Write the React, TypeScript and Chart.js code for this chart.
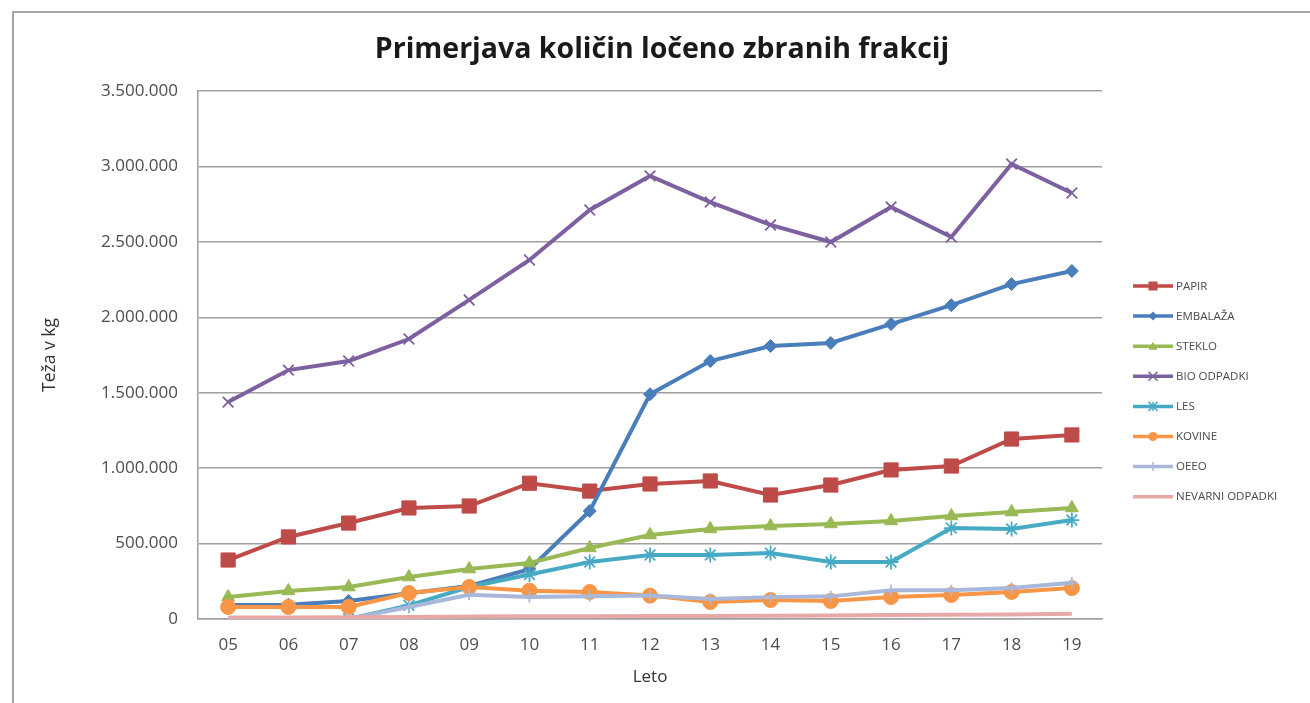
import React, { useEffect, useRef } from "react";
import { Chart, registerables } from "chart.js";

Chart.register(...registerables);

const years = ["05", "06", "07", "08", "09", "10", "11", "12", "13", "14", "15", "16", "17", "18", "19"];

const papir = [391000, 544000, 636000, 736000, 749000, 900000, 848000, 895000, 915000, 822000, 888000, 988000, 1014000, 1193000, 1220000];
const embalaza = [93000, 95000, 120000, 170000, 219000, 330000, 716000, 1490000, 1710000, 1810000, 1830000, 1955000, 2080000, 2220000, 2307000];
const steklo = [146000, 186000, 212000, 278000, 331000, 371000, 471000, 557000, 597000, 616000, 630000, 650000, 683000, 709000, 736000];
const bioOdpadki = [1438000, 1650000, 1710000, 1856000, 2115000, 2380000, 2711000, 2937000, 2764000, 2612000, 2499000, 2731000, 2532000, 3016000, 2824000];
const les = [null, null, 0, 90000, 212000, 295000, 378000, 424000, 424000, 437000, 378000, 378000, 603000, 597000, 656000];
const kovine = [80000, 80000, 80000, 172000, 212000, 188000, 179000, 155000, 113000, 126000, 120000, 146000, 159000, 179000, 205000];
const oeeo = [null, null, 0, 80000, 160000, 146000, 150000, 155000, 132000, 145000, 150000, 190000, 190000, 205000, 240000];
const nevarni = [10000, 10000, 12000, 14000, 16000, 18000, 18000, 20000, 20000, 22000, 24000, 26000, 28000, 30000, 34000];

const seriesNames = ["PAPIR", "EMBALAŽA", "STEKLO", "BIO ODPADKI", "LES", "KOVINE", "OEEO", "NEVARNI ODPADKI"];
const seriesData = [papir, embalaza, steklo, bioOdpadki, les, kovine, oeeo, nevarni];
const seriesColors = ["#BE4B48", "#4A7EBB", "#98B954", "#7D60A0", "#46AAC5", "#F79646", "#A9B8DA", "#E6A9A8"];
const seriesPoints = ["rect", "rectRot", "triangle", "crossRot", "star", "circle", "cross", false];
const seriesRadius = [10, 6.5, 7.5, 7.5, 7.5, 7.5, 5.5, 0];

const yTicks = [0, 500000, 1000000, 1500000, 2000000, 2500000, 3000000, 3500000];

const titleText = "Primerjava količin ločeno zbranih frakcij";
const yTitle = "Teža v kg";
const xTitle = "Leto";

const FONT = "'Open Sans', sans-serif";

function fmt(v: number): string {
  return String(Math.round(v)).replace(/\B(?=(\d{3})+(?!\d))/g, ".");
}

function drawMarker(ctx: CanvasRenderingContext2D, style: any, x: number, y: number, r: number, color: string) {
  ctx.save();
  ctx.fillStyle = color;
  ctx.strokeStyle = color;
  ctx.lineWidth = 2;
  ctx.beginPath();
  if (style === "rect") {
    ctx.rect(x - r, y - r, 2 * r, 2 * r);
    ctx.fill();
  } else if (style === "rectRot") {
    ctx.moveTo(x, y - r);
    ctx.lineTo(x + r, y);
    ctx.lineTo(x, y + r);
    ctx.lineTo(x - r, y);
    ctx.closePath();
    ctx.fill();
  } else if (style === "triangle") {
    ctx.moveTo(x, y - r);
    ctx.lineTo(x + r, y + r * 0.8);
    ctx.lineTo(x - r, y + r * 0.8);
    ctx.closePath();
    ctx.fill();
  } else if (style === "circle") {
    ctx.arc(x, y, r, 0, Math.PI * 2);
    ctx.fill();
  } else if (style === "crossRot" || style === "star" || style === "cross") {
    ctx.lineWidth = 1.5;
    if (style !== "cross") {
      ctx.moveTo(x - r, y - r); ctx.lineTo(x + r, y + r);
      ctx.moveTo(x - r, y + r); ctx.lineTo(x + r, y - r);
    }
    if (style !== "crossRot") {
      ctx.moveTo(x, y - r); ctx.lineTo(x, y + r);
      ctx.moveTo(x - r, y); ctx.lineTo(x + r, y);
    }
    ctx.stroke();
  }
  ctx.restore();
}

const decorPlugin = {
  id: "decor",
  beforeDraw(chart: any) {
    const ctx = chart.ctx as CanvasRenderingContext2D;
    ctx.save();
    ctx.fillStyle = "#ffffff";
    ctx.fillRect(0, 0, chart.width, chart.height);
    ctx.strokeStyle = "#a6a6a6";
    ctx.lineWidth = 2;
    ctx.beginPath();
    ctx.moveTo(13, chart.height + 5);
    ctx.lineTo(13, 12);
    ctx.lineTo(chart.width + 5, 12);
    ctx.stroke();
    ctx.restore();
  },
  afterDraw(chart: any) {
    const ctx = chart.ctx as CanvasRenderingContext2D;
    ctx.save();
    ctx.fillStyle = "#1a1a1a";
    ctx.font = `bold 28.5px ${FONT}`;
    ctx.textAlign = "center";
    ctx.textBaseline = "middle";
    ctx.fillText(titleText, 662, 50);

    // legend
    const x0 = 1133;
    const x1 = 1173;
    const ds = chart.data.datasets;
    ctx.font = `11.5px ${FONT}`;
    ctx.textAlign = "left";
    ctx.textBaseline = "middle";
    for (let i = 0; i < ds.length; i++) {
      const y = 286 + i * 30.1;
      ctx.strokeStyle = ds[i].borderColor;
      ctx.lineWidth = 3.5;
      ctx.beginPath();
      ctx.moveTo(x0, y);
      ctx.lineTo(x1, y);
      ctx.stroke();
      if (ds[i].pointStyle) {
        drawMarker(ctx, ds[i].pointStyle, (x0 + x1) / 2, y, 4.5, ds[i].borderColor);
      }
      ctx.fillStyle = "#4a4a4a";
      ctx.fillText(ds[i].label, x1 + 3, y + 0.5);
    }
    ctx.restore();
  },
};

export default function App() {
  const ref = useRef<HTMLCanvasElement | null>(null);

  useEffect(() => {
    if (!ref.current) return;
    const datasets = seriesNames.map((name, i) => ({
      label: name,
      data: seriesData[i],
      borderColor: seriesColors[i],
      backgroundColor: seriesColors[i],
      pointBackgroundColor: seriesColors[i],
      pointBorderColor: seriesColors[i],
      pointStyle: seriesPoints[i] as any,
      pointRadius: seriesRadius[i],
      pointBorderWidth: seriesPoints[i] === "crossRot" || seriesPoints[i] === "star" || seriesPoints[i] === "cross" ? 1.8 : 1,
      borderWidth: 4,
      tension: 0,
      fill: false,
      spanGaps: false,
      order: -i,
    }));

    const chart = new Chart(ref.current, {
      type: "line",
      data: { labels: years, datasets },
      plugins: [decorPlugin],
      options: {
        animation: false,
        responsive: false,
        layout: { padding: { top: 91, right: 208, bottom: 12, left: 36 } },
        plugins: {
          legend: { display: false },
          title: { display: false },
          tooltip: { enabled: false },
        },
        scales: {
          x: {
            type: "category",
            offset: true,
            grid: { display: false, drawTicks: false },
            border: { display: true, color: "#a0a0a0", width: 1.5 },
            ticks: { color: "#4d4d4d", font: { family: FONT, size: 17 }, padding: 16 },
            title: { display: true, text: xTitle, color: "#333333", font: { family: FONT, size: 17 } },
            afterFit: (s: any) => { s.height = 72; },
          },
          y: {
            min: 0,
            max: 3500000,
            afterBuildTicks: (s: any) => { s.ticks = yTicks.map((v) => ({ value: v })); },
            grid: { color: "#a0a0a0", lineWidth: 1.5, drawTicks: false },
            border: { display: true, color: "#a0a0a0", width: 1.5 },
            ticks: {
              color: "#4d4d4d",
              font: { family: FONT, size: 17 },
              padding: 20,
              callback: (v: any) => fmt(Number(v)),
            },
            title: { display: true, text: yTitle, color: "#333333", font: { family: FONT, size: 17.5 } },
            afterFit: (s: any) => { s.width = 162; },
          },
        },
      },
    });
    return () => chart.destroy();
  }, []);

  return (
    <div style={{ position: "absolute", left: 0, top: 0, width: 1310, height: 703, background: "#fff" }}>
      <canvas ref={ref} width={1310} height={703} style={{ display: "block" }} />
    </div>
  );
}
